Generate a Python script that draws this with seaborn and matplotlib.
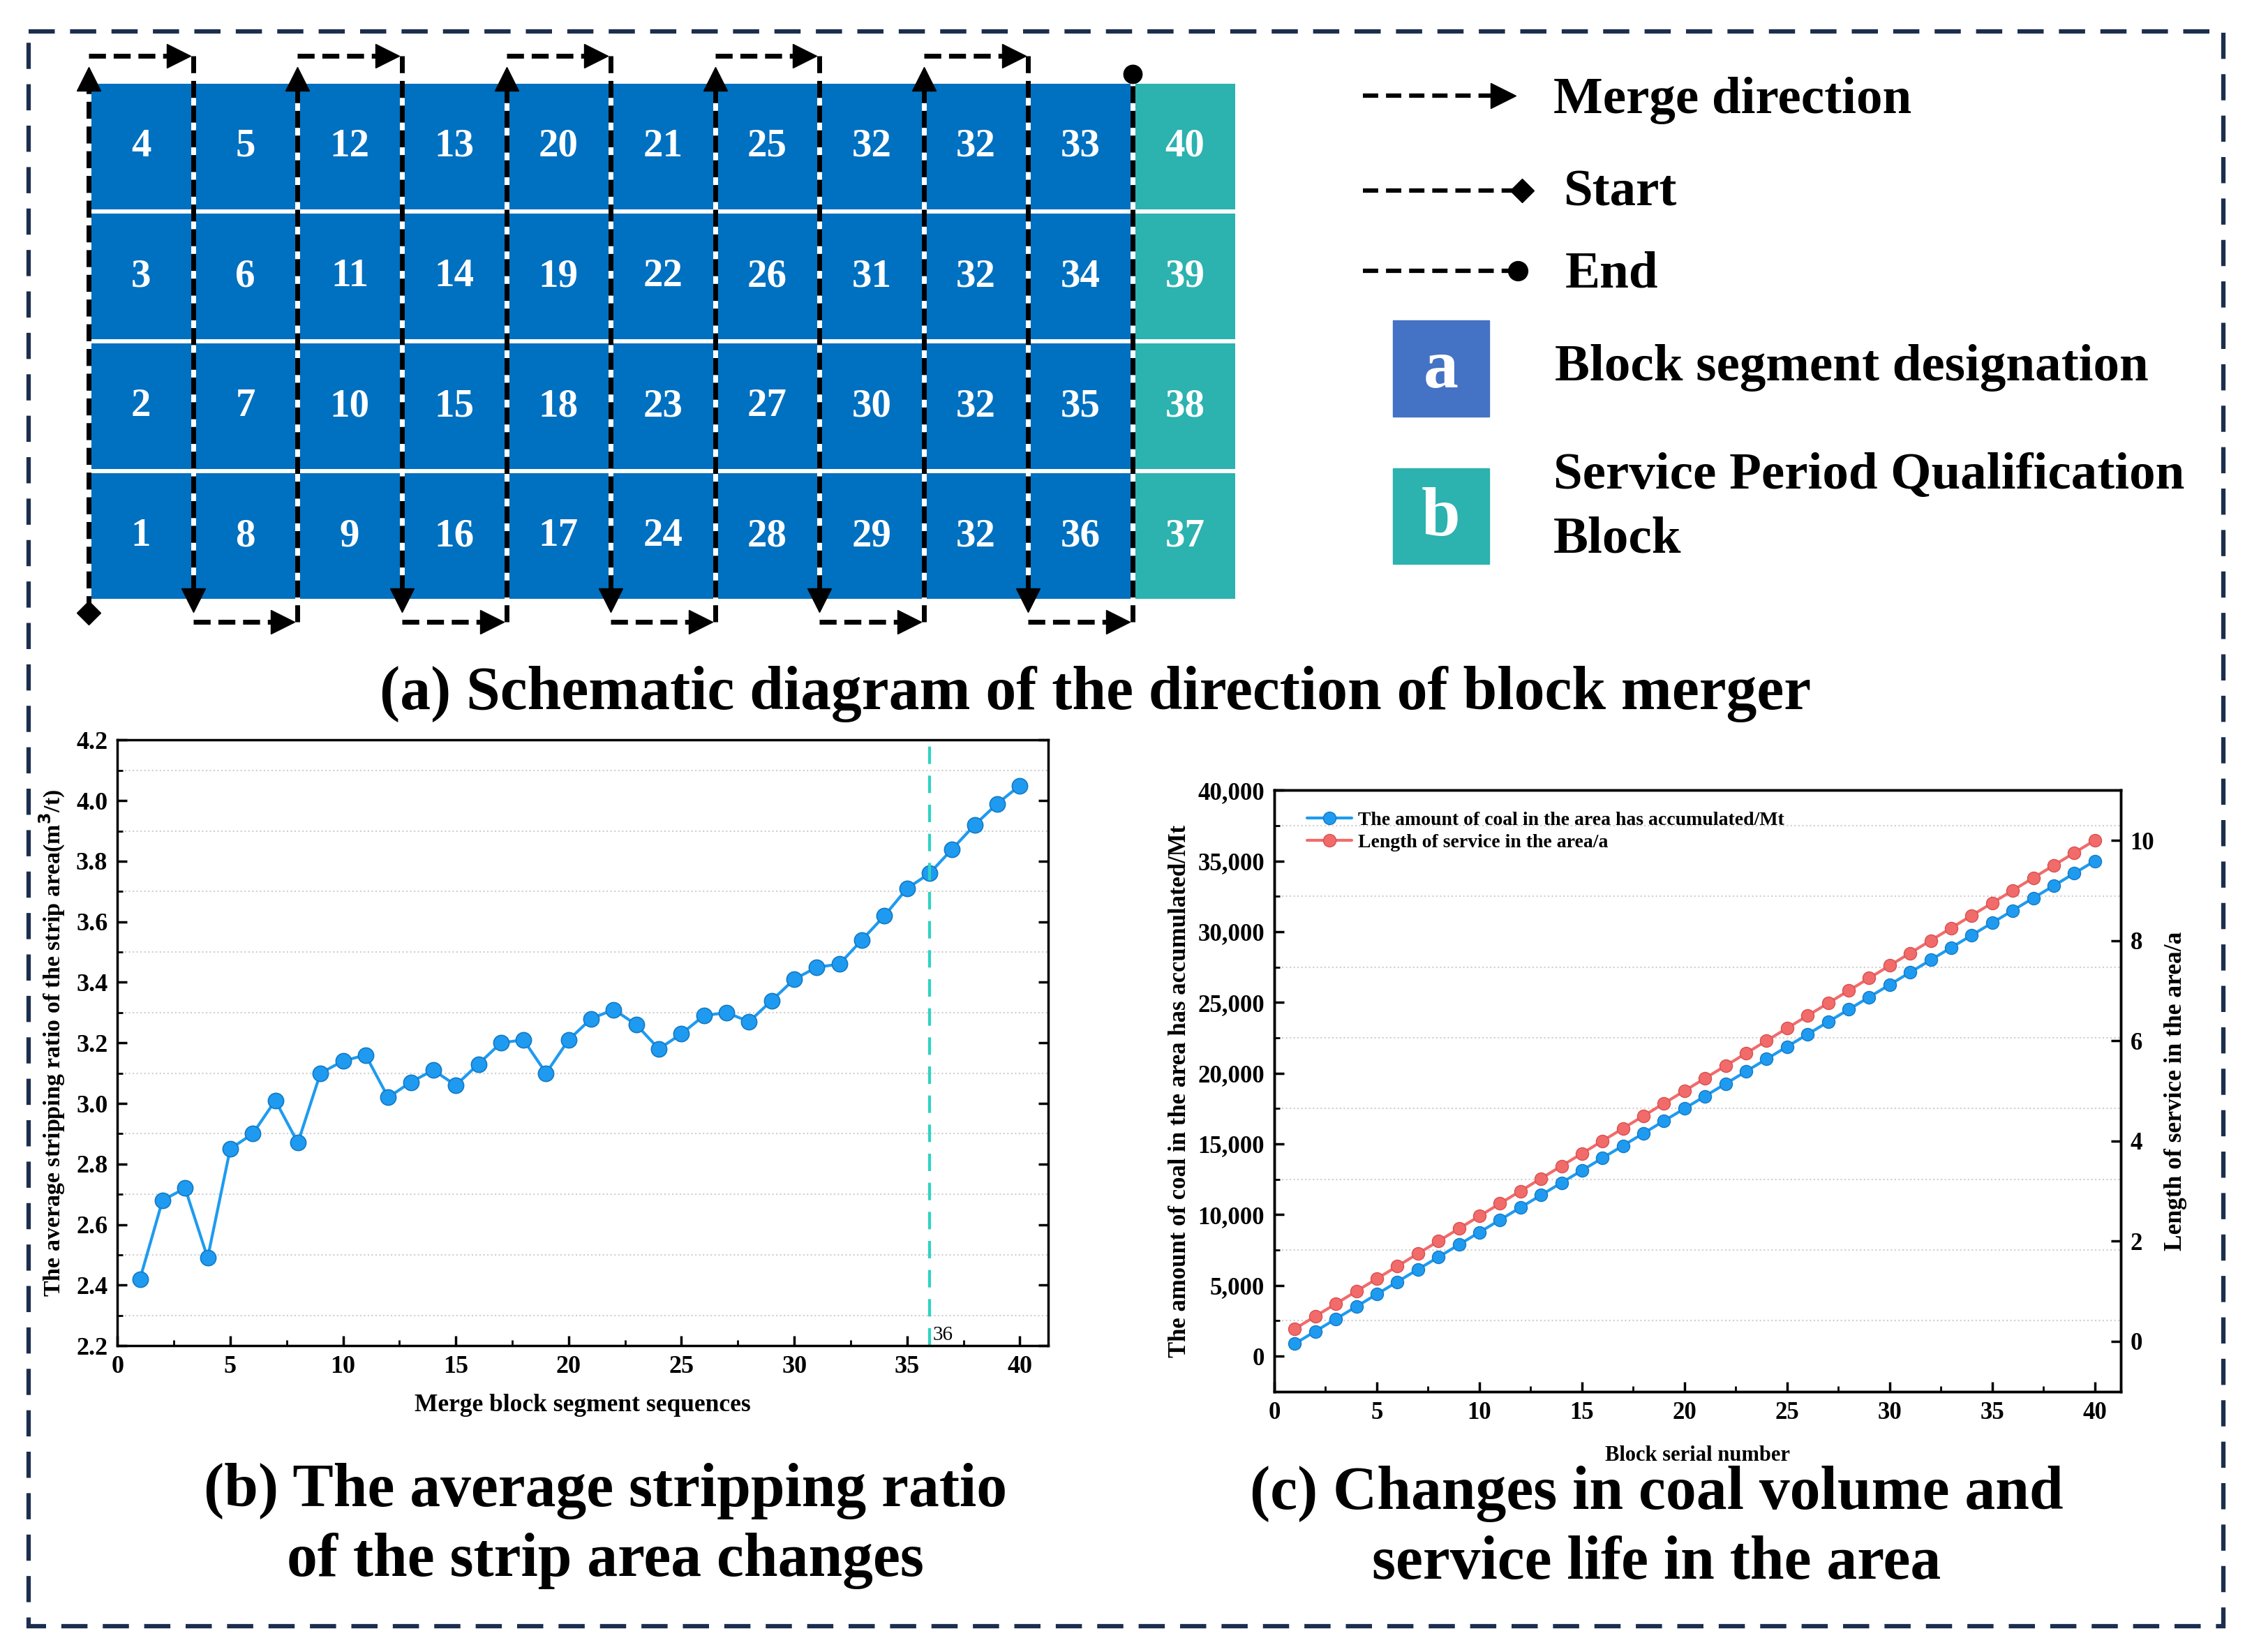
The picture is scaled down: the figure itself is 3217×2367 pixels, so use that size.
import numpy as np
import matplotlib
matplotlib.use('Agg')
import matplotlib.pyplot as plt
from matplotlib.colors import ListedColormap
from matplotlib.patches import Rectangle
from matplotlib.ticker import MultipleLocator, FuncFormatter
import seaborn as sns

# ---------- data ----------
# (a) block numbers, top row first
block_rows = [
    [4, 5, 12, 13, 20, 21, 25, 32, 32, 33, 40],
    [3, 6, 11, 14, 19, 22, 26, 31, 32, 34, 39],
    [2, 7, 10, 15, 18, 23, 27, 30, 32, 35, 38],
    [1, 8, 9, 16, 17, 24, 28, 29, 32, 36, 37],
]
# 0 = block segment, 1 = service period qualification block
block_kind = [
    [0, 0, 0, 0, 0, 0, 0, 0, 0, 0, 1],
    [0, 0, 0, 0, 0, 0, 0, 0, 0, 0, 1],
    [0, 0, 0, 0, 0, 0, 0, 0, 0, 0, 1],
    [0, 0, 0, 0, 0, 0, 0, 0, 0, 0, 1],
]

# (b) average stripping ratio per merge step
merge_seq = list(range(1, 41))
strip_ratio = [2.42, 2.68, 2.72, 2.49, 2.85, 2.90, 3.01, 2.87, 3.10, 3.14,
               3.16, 3.02, 3.07, 3.11, 3.06, 3.13, 3.20, 3.21, 3.10, 3.21,
               3.28, 3.31, 3.26, 3.18, 3.23, 3.29, 3.30, 3.27, 3.34, 3.41,
               3.45, 3.46, 3.54, 3.62, 3.71, 3.76, 3.84, 3.92, 3.99, 4.05]
cut_block = 36

# (c) accumulated coal and service length
block_no = list(range(1, 41))
coal_mt = [875, 1750, 2625, 3500, 4375, 5250, 6125, 7000, 7875, 8750,
           9625, 10500, 11375, 12250, 13125, 14000, 14875, 15750, 16625, 17500,
           18375, 19250, 20125, 21000, 21875, 22750, 23625, 24500, 25375, 26250,
           27125, 28000, 28875, 29750, 30625, 31500, 32375, 33250, 34125, 35000]
service_a = [0.25, 0.50, 0.75, 1.00, 1.25, 1.50, 1.75, 2.00, 2.25, 2.50,
             2.75, 3.00, 3.25, 3.50, 3.75, 4.00, 4.25, 4.50, 4.75, 5.00,
             5.25, 5.50, 5.75, 6.00, 6.25, 6.50, 6.75, 7.00, 7.25, 7.50,
             7.75, 8.00, 8.25, 8.50, 8.75, 9.00, 9.25, 9.50, 9.75, 10.00]

# ---------- style ----------
sns.set_style("ticks")
plt.rcParams['font.family'] = ['Liberation Serif', 'DejaVu Sans']
plt.rcParams['font.weight'] = 'bold'
plt.rcParams['axes.labelweight'] = 'bold'
plt.rcParams['xtick.direction'] = 'in'
plt.rcParams['ytick.direction'] = 'in'
for key in ['text.color', 'axes.labelcolor', 'xtick.color', 'ytick.color', 'axes.edgecolor']:
    plt.rcParams[key] = 'black'

block_blue = '#0070C0'
teal = '#2CB2AF'
line_blue = '#1E9BF0'
line_red = '#F26B6B'
navy = '#1C2E4F'

fig = plt.figure(figsize=(32.17, 23.67), dpi=100)

# background axes in "reference pixel" units for frame, legend and captions
ax_bg = fig.add_axes([0, 0, 1, 1])
ax_bg.set_xlim(0, 1568)
ax_bg.set_ylim(1154, 0)
ax_bg.axis('off')

ax_bg.add_patch(Rectangle((20, 22), 1533, 1114, fill=False, ec=navy, lw=4.5,
                          ls=(0, (6, 3.5))))

# ---------- (a) block grid ----------
ax_a = fig.add_axes([62 / 1568, 1 - 420 / 1154, 802 / 1568, 363 / 1154])
sns.heatmap(np.array(block_kind), cmap=ListedColormap([block_blue, teal]),
            annot=np.array(block_rows), fmt='d', cbar=False,
            linewidths=4, linecolor='white', xticklabels=False, yticklabels=False,
            annot_kws=dict(color='white', fontsize=41, fontweight='bold'), ax=ax_a)

dash = dict(color='black', lw=5, ls=(0, (3.5, 1.6)), clip_on=False, zorder=5)
head = dict(color='black', ms=25, ls='none', clip_on=False, zorder=6)
for k in range(10):
    if k % 2 == 0:
        y0 = 4.09 if k == 0 else 4.16
        ax_a.plot([k, k], [y0, 0.0], gapcolor='white', **dash)
        ax_a.plot(k, -0.02, marker='^', **head)
        ax_a.plot([k, k + 0.78], [-0.2, -0.2], **dash)
        ax_a.plot(k + 0.86, -0.2, marker='>', **head)
    else:
        ax_a.plot([k, k], [-0.2, 3.95], gapcolor='white', **dash)
        ax_a.plot(k, 3.99, marker='v', **head)
        ax_a.plot([k, k + 0.78], [4.16, 4.16], **dash)
        ax_a.plot(k + 0.86, 4.16, marker='>', **head)
ax_a.plot([10, 10], [4.16, -0.06], gapcolor='white', **dash)
ax_a.plot(10, -0.06, marker='o', color='black', ms=19, clip_on=False, zorder=6)
ax_a.plot(0, 4.09, marker='D', color='black', ms=17, clip_on=False, zorder=6)

# legend of (a)
leg_dash = dict(color='black', lw=4.5, ls=(0, (3.5, 1.8)))
ax_bg.plot([952, 1046], [67, 67], **leg_dash)
ax_bg.plot(1050, 67, marker='>', color='black', ms=26)
ax_bg.plot([952, 1058], [133, 133], **leg_dash)
ax_bg.plot(1063, 133, marker='D', color='black', ms=17)
ax_bg.plot([952, 1054], [189, 189], **leg_dash)
ax_bg.plot(1060, 189, marker='o', color='black', ms=20)
ax_bg.add_patch(Rectangle((973, 224), 67, 67, color='#4472C4'))
ax_bg.add_patch(Rectangle((973, 327), 67, 67, color=teal))
ax_bg.text(1006.5, 259, 'a', color='white', fontsize=72, fontweight='bold',
           ha='center', va='center')
ax_bg.text(1006.5, 362, 'b', color='white', fontsize=72, fontweight='bold',
           ha='center', va='center')
leg_txt = dict(fontsize=54, fontweight='bold', ha='left', va='center')
ax_bg.text(1085, 70, 'Merge direction', **leg_txt)
ax_bg.text(1092, 135, 'Start', **leg_txt)
ax_bg.text(1093, 192, 'End', **leg_txt)
ax_bg.text(1086, 257, 'Block segment designation', **leg_txt)
ax_bg.text(1085, 355, 'Service Period Qualification\nBlock', linespacing=1.45, **leg_txt)

ax_bg.text(765, 485, '(a) Schematic diagram of the direction of block merger',
           fontsize=63, fontweight='bold', ha='center', va='center')

# ---------- (b) stripping ratio ----------
ax_b = fig.add_axes([82 / 1568, 1 - 940 / 1154, 650 / 1568, 423 / 1154])
sns.lineplot(x=merge_seq, y=strip_ratio, ax=ax_b, color=line_blue, lw=3,
             marker='o', markersize=16, markeredgecolor='#1479C4',
             markeredgewidth=1.2)
ax_b.axvline(cut_block, color='#2FD3C3', lw=3, ls=(0, (6, 4)))
ax_b.text(cut_block + 0.15, 2.205, str(cut_block), fontsize=21,
          fontweight='normal', ha='left', va='bottom')
ax_b.set_xlim(0, 41.25)
ax_b.set_ylim(2.2, 4.2)
ax_b.xaxis.set_major_locator(MultipleLocator(5))
ax_b.xaxis.set_minor_locator(MultipleLocator(2.5))
ax_b.yaxis.set_major_locator(MultipleLocator(0.2))
ax_b.yaxis.set_minor_locator(MultipleLocator(0.1))
ax_b.yaxis.set_major_formatter(FuncFormatter(lambda v, p: f'{v:.1f}'))
ax_b.grid(which='minor', axis='y', ls=':', lw=1.5, color='#cfcfcf')
ax_b.tick_params(which='major', labelsize=26, length=10, width=2.5, right=True, pad=10)
ax_b.tick_params(which='minor', length=6, width=2, right=False)
for s in ax_b.spines.values():
    s.set_linewidth(2.5)
ax_b.set_xlabel('Merge block segment sequences', fontsize=25.5, labelpad=16)
ax_b.set_ylabel('The average stripping ratio of the strip area(m$^3$/t)',
                fontsize=24.5, labelpad=9)

ax_bg.text(423, 1066, '(b) The average stripping ratio\nof the strip area changes',
           fontsize=63, fontweight='bold', ha='center', va='center', linespacing=1.3)

# ---------- (c) coal volume and service life ----------
ax_c = fig.add_axes([890 / 1568, 1 - 972 / 1154, 591 / 1568, 420 / 1154])
sns.lineplot(x=block_no, y=coal_mt, ax=ax_c, color=line_blue, lw=3,
             marker='o', markersize=13, markeredgecolor='#1479C4',
             markeredgewidth=1, label='The amount of coal in the area has accumulated/Mt')
ax_c2 = ax_c.twinx()
sns.lineplot(x=block_no, y=service_a, ax=ax_c2, color=line_red, lw=3,
             marker='o', markersize=13, markeredgecolor='#D94F4F',
             markeredgewidth=1, label='Length of service in the area/a')
h1, l1 = ax_c.get_legend_handles_labels()
h2, l2 = ax_c2.get_legend_handles_labels()
if ax_c2.get_legend() is not None:
    ax_c2.get_legend().remove()
ax_c.legend(h1 + h2, l1 + l2, loc='upper left', bbox_to_anchor=(0.03, 0.978),
            frameon=False, fontsize=20, handlelength=2.3, labelspacing=0.25,
            borderaxespad=0, handletextpad=0.3)

ax_c.set_xlim(0, 41.25)
ax_c.set_ylim(-2500, 40000)
ax_c2.set_ylim(-1, 11)
ax_c.xaxis.set_major_locator(MultipleLocator(5))
ax_c.xaxis.set_minor_locator(MultipleLocator(2.5))
ax_c.yaxis.set_major_locator(MultipleLocator(5000))
ax_c.yaxis.set_minor_locator(MultipleLocator(2500))
ax_c.yaxis.set_major_formatter(FuncFormatter(lambda v, p: f'{int(v):,}'))
ax_c2.yaxis.set_major_locator(MultipleLocator(2))
ax_c.grid(which='minor', axis='y', ls=':', lw=1.5, color='#cfcfcf')
ax_c.tick_params(which='major', labelsize=25, length=10, width=2.5, pad=10)
ax_c.tick_params(which='minor', length=6, width=2)
ax_c2.tick_params(which='major', labelsize=25, length=10, width=2.5, pad=10)
for s in list(ax_c.spines.values()) + list(ax_c2.spines.values()):
    s.set_linewidth(2.5)
ax_c.set_xlabel('Block serial number', fontsize=22, labelpad=22)
ax_c.set_ylabel('The amount of coal in the area has accumulated/Mt', fontsize=25, labelpad=7)
ax_c2.set_ylabel('Length of service in the area/a', fontsize=25.5, labelpad=10)

ax_bg.text(1157, 1068, '(c) Changes in coal volume and\nservice life in the area',
           fontsize=63, fontweight='bold', ha='center', va='center', linespacing=1.3)

fig.savefig('out.png', dpi=100, facecolor='white')
